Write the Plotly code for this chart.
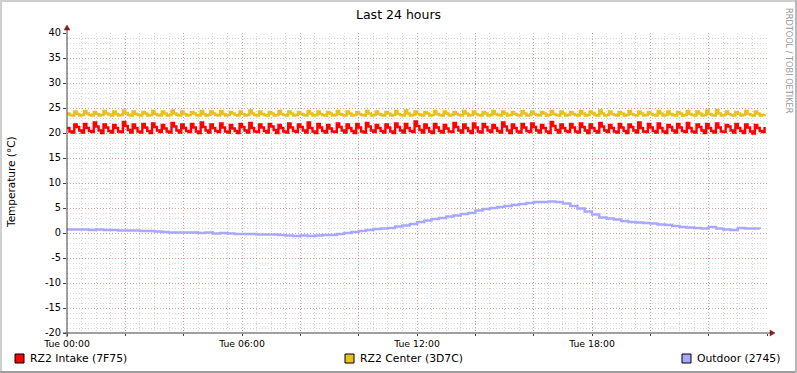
import plotly.graph_objects as go

# ---------------- data ----------------
STEP_MIN = 5          # sample interval of the two rack sensors (minutes)
OUT_STEP_MIN = 15     # sample interval of outdoor sensor (minutes)

rz2_intake = [
    21.0,20.3,20.1,21.7, 21.2,20.5,20.1,21.8, 21.0,20.4,20.2,22.1, 21.3,20.5,20.0,21.7,
    21.1,20.4,20.1,21.6, 21.0,20.3,20.2,22.2, 21.4,20.6,20.1,21.7, 21.0,20.3,20.1,21.8,
    21.1,20.4,20.0,21.9, 21.2,20.5,20.2,21.6, 20.9,20.3,20.1,22.0, 21.3,20.5,20.1,21.7,
    21.0,20.4,20.2,21.8, 21.1,20.3,20.0,22.1, 21.2,20.5,20.1,21.7, 21.0,20.4,20.2,21.9,
    21.1,20.3,20.1,21.6, 20.9,20.4,20.0,21.8, 21.2,20.5,20.1,22.0, 21.0,20.3,20.2,21.7,
    21.1,20.4,20.1,21.8, 21.3,20.6,20.0,21.6, 21.0,20.3,20.1,21.9, 21.1,20.4,20.2,21.7,
    21.2,20.5,20.1,22.1, 21.0,20.3,20.0,21.8, 21.1,20.4,20.1,21.6, 20.9,20.3,20.2,21.9,
    21.2,20.5,20.1,21.7, 21.0,20.4,20.0,21.8, 21.1,20.3,20.1,22.0, 21.3,20.5,20.2,21.6,
    21.0,20.4,20.1,21.7, 21.1,20.3,20.0,21.9, 21.2,20.5,20.1,21.8, 21.0,20.4,20.2,22.3,
    21.4,20.6,20.1,21.7, 21.0,20.3,20.0,21.8, 21.1,20.4,20.1,21.6, 20.9,20.3,20.2,22.0,
    21.2,20.5,20.1,21.7, 21.0,20.4,20.0,21.9, 21.1,20.3,20.1,21.8, 21.2,20.5,20.2,21.6,
    21.0,20.4,20.1,22.1, 21.3,20.5,20.0,21.7, 21.0,20.3,20.1,21.8, 21.1,20.4,20.2,21.9,
    21.2,20.5,20.1,21.6, 21.0,20.3,20.0,22.2, 21.4,20.6,20.1,21.7, 21.0,20.4,20.2,21.8,
    21.1,20.3,20.1,21.9, 21.2,20.5,20.0,21.7, 21.0,20.4,20.1,22.0, 21.3,20.5,20.2,21.6,
    21.0,20.3,20.1,21.8, 21.1,20.4,20.0,21.7, 21.2,20.5,20.1,22.1, 21.0,20.3,20.2,21.8,
    21.1,20.4,20.1,21.9, 21.0,20.3,20.0,21.6, 21.2,20.5,20.1,21.8, 21.1,20.4,20.2,22.0,
    21.0,20.3,20.1,21.7, 21.2,20.5,20.0,21.8, 21.0,20.4,20.1,21.9, 21.1,20.3,20.2,21.6,
    21.3,20.5,20.1,21.8, 21.0,20.4,20.0,21.7, 21.1,20.3,19.9,21.6, 21.0,20.4,20.2,21.2,
]

rz2_center = [
    23.9,23.6,23.5,24.3, 23.8,23.5,23.6,24.4, 23.9,23.6,23.5,24.2, 23.8,23.5,23.6,24.4,
    23.9,23.7,23.5,24.3, 23.8,23.5,23.6,24.5, 24.0,23.6,23.5,24.3, 23.8,23.6,23.5,24.2,
    23.9,23.5,23.6,24.4, 23.8,23.6,23.5,24.3, 23.9,23.5,23.6,24.5, 23.9,23.6,23.5,24.3,
    23.8,23.5,23.6,24.2, 23.9,23.6,23.5,24.4, 23.8,23.5,23.6,24.3, 23.9,23.6,23.5,24.4,
    23.8,23.5,23.6,24.2, 23.9,23.6,23.5,24.3, 23.8,23.5,23.6,24.5, 23.9,23.6,23.5,24.3,
    23.8,23.6,23.5,24.2, 23.9,23.5,23.6,24.4, 23.8,23.6,23.5,24.3, 23.9,23.5,23.6,24.2,
    23.8,23.6,23.5,24.4, 23.9,23.5,23.6,24.3, 23.8,23.6,23.5,24.2, 23.9,23.5,23.6,24.4,
    23.8,23.6,23.5,24.3, 23.9,23.5,23.6,24.2, 23.8,23.6,23.5,24.4, 23.9,23.5,23.6,24.3,
    23.8,23.6,23.5,24.2, 23.9,23.5,23.6,24.4, 23.8,23.6,23.5,24.5, 23.9,23.5,23.6,24.3,
    23.8,23.6,23.5,24.2, 23.9,23.5,23.6,24.4, 23.8,23.6,23.5,24.3, 23.9,23.5,23.6,24.2,
    23.8,23.6,23.5,24.4, 23.9,23.5,23.6,24.3, 23.8,23.6,23.5,24.2, 23.9,23.5,23.6,24.4,
    23.8,23.6,23.5,24.3, 23.9,23.5,23.6,24.2, 23.8,23.6,23.5,24.4, 23.9,23.5,23.6,24.3,
    23.8,23.6,23.5,24.2, 23.9,23.5,23.6,24.4, 23.8,23.6,23.5,24.3, 23.9,23.5,23.6,24.2,
    23.8,23.6,23.5,24.4, 23.9,23.5,23.6,24.3, 24.0,23.6,23.5,24.5, 23.9,23.5,23.6,24.3,
    23.8,23.6,23.5,24.2, 23.9,23.5,23.6,24.4, 23.8,23.6,23.5,24.3, 23.9,23.5,23.6,24.2,
    23.8,23.6,23.5,24.4, 23.9,23.5,23.6,24.3, 23.8,23.6,23.5,24.2, 23.9,23.5,23.6,24.4,
    23.8,23.6,23.5,24.3, 23.9,23.5,23.6,24.5, 23.8,23.6,23.5,24.6, 23.9,23.5,23.6,24.3,
    23.8,23.6,23.5,24.2, 23.9,23.5,23.6,24.4, 23.8,23.6,23.5,24.3, 23.9,23.5,23.6,23.8,
]

outdoor = [
    0.7, 0.7, 0.7, 0.6, 0.7, 0.6, 0.6, 0.5, 0.5, 0.5, 0.4, 0.4,
    0.3, 0.2, 0.1, 0.1, 0.1, 0.1, 0.0, 0.1, -0.1, 0.0, -0.1, -0.2,
    -0.2, -0.2, -0.3, -0.3, -0.3, -0.4, -0.5, -0.6, -0.5, -0.6, -0.5, -0.4,
    -0.4, -0.2, 0.0, 0.2, 0.4, 0.6, 0.8, 0.9, 1.0, 1.3, 1.5, 1.8,
    2.2, 2.5, 2.8, 3.0, 3.3, 3.5, 3.8, 4.0, 4.5, 4.8, 5.0, 5.2,
    5.4, 5.6, 5.8, 6.0, 6.2, 6.2, 6.3, 6.2, 5.9, 5.4, 4.9, 4.3,
    3.7, 3.1, 2.9, 2.7, 2.4, 2.2, 2.1, 2.0, 1.9, 1.7, 1.6, 1.4,
    1.2, 1.1, 1.0, 0.9, 1.2, 0.9, 0.7, 0.6, 1.0, 0.9, 0.9, 0.8,
]

series_names = ["RZ2 Intake (7F75)", "RZ2 Center (3D7C)", "Outdoor (2745)"]
series_colors = ["#FF0000", "#E8C020", "#A8A8FF"]

x_tick_hours = [0, 2, 4, 6, 8, 10, 12, 14, 16, 18, 20, 22, 24]
x_tick_text = ["Tue 00:00", "", "", "Tue 06:00", "", "", "Tue 12:00", "", "", "Tue 18:00", "", "", ""]
y_tick_vals = [-20, -15, -10, -5, 0, 5, 10, 15, 20, 25, 30, 35, 40]
y_tick_text = [str(v) for v in y_tick_vals]

title_text = "Last 24 hours"
y_title = "Temperature (°C)"
watermark = "RRDTOOL / TOBI OETIKER"

# ---------------- geometry ----------------
W, H = 797, 373
L, R, T, B = 67, 30, 33, 40
PW, PH = W - L - R, H - T - B


def px(x):
    return (x - L) / PW


def py(y):
    return (H - B - y) / PH


t_rack = [i * STEP_MIN / 60 for i in range(len(rz2_intake))]
t_out = [i * OUT_STEP_MIN / 60 for i in range(len(outdoor))]

fig = go.Figure()
for name, tt, vals, col in [
    (series_names[2], t_out, outdoor, series_colors[2]),
    (series_names[1], t_rack, rz2_center, series_colors[1]),
    (series_names[0], t_rack, rz2_intake, series_colors[0]),
]:
    fig.add_trace(go.Scatter(x=tt, y=vals, mode="lines", name=name,
                             line=dict(color=col, width=2.4, shape="hv"),
                             showlegend=False, hoverinfo="skip"))

FONT = "DejaVu Sans"
minor_grid = "rgba(200,200,200,0.75)"
major_grid = "rgba(222,80,80,0.45)"

fig.update_layout(
    width=W, height=H,
    margin=dict(l=L, r=R, t=T, b=B, pad=0),
    paper_bgcolor="#FFFFFF", plot_bgcolor="#FFFFFF",
    font=dict(family=FONT, size=9.3, color="#000000"),
    xaxis=dict(range=[0, 24], tickvals=x_tick_hours, ticktext=x_tick_text,
               showgrid=True, gridcolor=major_grid, griddash="1px,2px", gridwidth=1,
               minor=dict(dtick=0.5, showgrid=True, gridcolor=minor_grid,
                          griddash="1px,2px", ticks=""),
               showline=False, zeroline=False, ticks="outside", ticklen=2,
               tickcolor="#404040", tickfont=dict(size=9.3), fixedrange=True),
    yaxis=dict(range=[-20, 40], tickvals=y_tick_vals, ticktext=y_tick_text,
               showgrid=True, gridcolor=major_grid, griddash="1px,2px", gridwidth=1,
               minor=dict(dtick=1, showgrid=True, gridcolor=minor_grid,
                          griddash="1px,2px", ticks=""),
               showline=False, zeroline=False, ticks="outside", ticklen=3,
               tickcolor="#404040", tickfont=dict(size=9.8), fixedrange=True),
)

shapes = []
axis_col = "#404040"
arrow_col = "#802020"
# axes lines
shapes.append(dict(type="line", xref="paper", yref="paper", x0=px(63), x1=px(770),
                   y0=0, y1=0, line=dict(color=axis_col, width=1)))
shapes.append(dict(type="line", xref="paper", yref="paper", x0=0, x1=0,
                   y0=py(337), y1=py(29), line=dict(color=axis_col, width=1)))
# arrows
shapes.append(dict(type="path", xref="paper", yref="paper",
                   path=f"M {px(770)} {py(330)} L {px(775)} {py(333)} L {px(770)} {py(336)} Z",
                   fillcolor=arrow_col, line=dict(color=arrow_col, width=0.5)))
shapes.append(dict(type="path", xref="paper", yref="paper",
                   path=f"M {px(64)} {py(30)} L {px(67)} {py(25)} L {px(70)} {py(30)} Z",
                   fillcolor=arrow_col, line=dict(color=arrow_col, width=0.5)))
# frame shading
shapes.append(dict(type="rect", xref="paper", yref="paper", x0=px(0), x1=px(W),
                   y0=py(0), y1=py(2), fillcolor="#CFCFCF", line=dict(width=0), layer="below"))
shapes.append(dict(type="rect", xref="paper", yref="paper", x0=px(0), x1=px(2),
                   y0=py(0), y1=py(H), fillcolor="#CFCFCF", line=dict(width=0), layer="below"))
shapes.append(dict(type="rect", xref="paper", yref="paper", x0=px(0), x1=px(W),
                   y0=py(H - 2), y1=py(H), fillcolor="#9E9E9E", line=dict(width=0), layer="below"))
shapes.append(dict(type="rect", xref="paper", yref="paper", x0=px(W - 2), x1=px(W),
                   y0=py(0), y1=py(H), fillcolor="#B8B8B8", line=dict(width=0), layer="below"))

annotations = []
# legend
legend_x = [15, 345, 682]
for lx, name, col in zip(legend_x, series_names, series_colors):
    shapes.append(dict(type="rect", xref="paper", yref="paper",
                       x0=px(lx), x1=px(lx + 9), y0=py(354), y1=py(363),
                       fillcolor=col, line=dict(color="#000000", width=1)))
    annotations.append(dict(xref="paper", yref="paper", x=px(lx + 13), y=py(358.5),
                            text=name, showarrow=False, xanchor="left", yanchor="middle",
                            font=dict(family=FONT, size=10.8, color="#000000")))

annotations.append(dict(xref="paper", yref="paper", x=px(398), y=py(14), text=title_text,
                        showarrow=False, xanchor="center", yanchor="middle",
                        font=dict(family=FONT, size=12.5, color="#000000")))
annotations.append(dict(xref="paper", yref="paper", x=px(11), y=py(182), text=y_title,
                        showarrow=False, xanchor="center", yanchor="middle", textangle=-90,
                        font=dict(family=FONT, size=10.5, color="#000000")))
annotations.append(dict(xref="paper", yref="paper", x=px(789), y=py(61), text=watermark,
                        showarrow=False, xanchor="center", yanchor="middle", textangle=90,
                        font=dict(family=FONT, size=8.2, color="#989898")))

fig.update_layout(shapes=shapes, annotations=annotations)

fig.write_html("out.html", config={"displayModeBar": False},
               post_script="document.body.style.margin='0px';document.body.style.padding='0px';")
